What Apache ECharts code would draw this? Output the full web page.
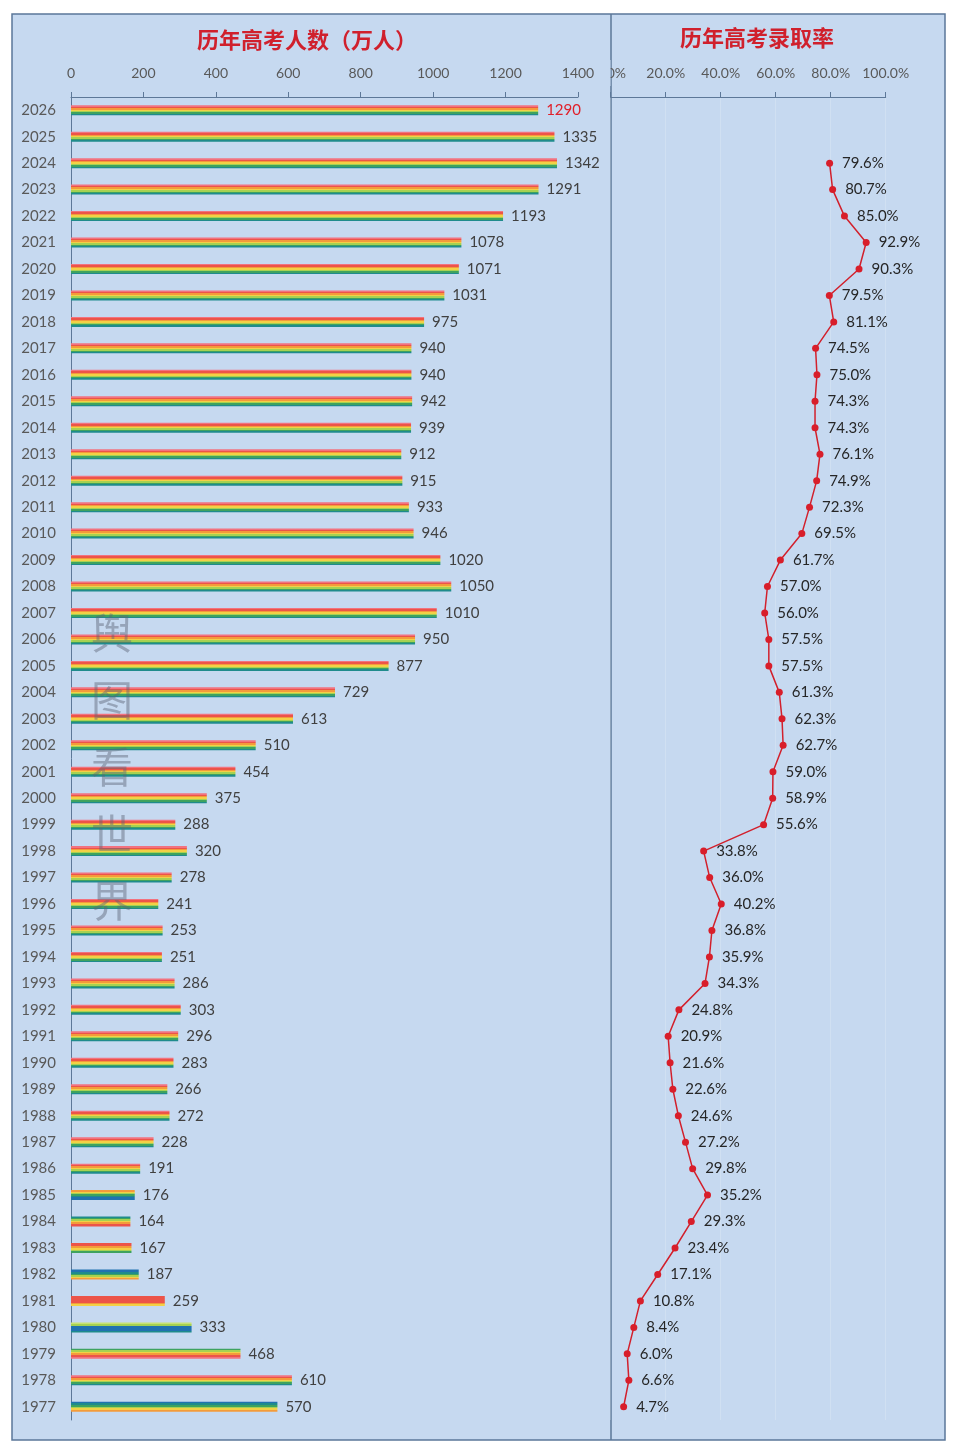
<!DOCTYPE html>
<html>
<head>
<meta charset="utf-8">
<script src="https://cdn.jsdelivr.net/npm/echarts@6/dist/echarts.min.js"></script>
<style>
html,body{margin:0;padding:0;background:#fff;}
#c{width:960px;height:1452px;}
</style>
</head>
<body>
<div id="c"></div>
<script>
const years = ['2026','2025','2024','2023','2022','2021','2020','2019','2018','2017','2016','2015','2014','2013','2012','2011','2010','2009','2008','2007','2006','2005','2004','2003','2002','2001','2000','1999','1998','1997','1996','1995','1994','1993','1992','1991','1990','1989','1988','1987','1986','1985','1984','1983','1982','1981','1980','1979','1978','1977'];
const applicants = [1290,1335,1342,1291,1193,1078,1071,1031,975,940,940,942,939,912,915,933,946,1020,1050,1010,950,877,729,613,510,454,375,288,320,278,241,253,251,286,303,296,283,266,272,228,191,176,164,167,187,259,333,468,610,570];
const admitRate = [null,null,79.6,80.7,85.0,92.9,90.3,79.5,81.1,74.5,75.0,74.3,74.3,76.1,74.9,72.3,69.5,61.7,57.0,56.0,57.5,57.5,61.3,62.3,62.7,59.0,58.9,55.6,33.8,36.0,40.2,36.8,35.9,34.3,24.8,20.9,21.6,22.6,24.6,27.2,29.8,35.2,29.3,23.4,17.1,10.8,8.4,6.0,6.6,4.7];
const countTicks = [0,200,400,600,800,1000,1200,1400];
const rateTicks = [0,20,40,60,80,100];

// stripe palettes (styling)
const P = {pk:'#f2727f',rd:'#ec5449',or:'#f39b3b',ye:'#f3d046',lg:'#a6d152',gr:'#3ea25f',tl:'#1f8b8c',bl:'#2172b0'};
const normal = [P.pk,P.rd,P.or,P.ye,P.lg,P.gr,P.tl];
const special = {
  '1985':[P.or,P.ye,P.lg,P.gr,P.tl,P.bl,P.bl],
  '1984':[P.tl,P.gr,P.lg,P.ye,P.or,P.rd,P.rd],
  '1983':[P.rd,P.rd,P.or,P.ye,P.lg,P.gr],
  '1982':[P.bl,P.bl,P.tl,P.gr,P.lg,P.ye,P.or],
  '1981':[P.rd,P.rd,P.rd,P.rd,P.or,P.ye],
  '1980':['#c9e275',P.lg,P.bl,P.bl,P.bl,P.tl],
  '1979':[P.gr,P.lg,P.ye,P.or,P.rd,P.rd,P.pk],
  '1977':[P.bl,P.tl,P.gr,P.lg,P.ye,P.or]
};
function stripes(cols){
  const stops=[];const n=cols.length;
  cols.forEach((c,i)=>{stops.push({offset:i/n,color:c});stops.push({offset:(i+1)/n-0.0001,color:c});});
  return new echarts.graphic.LinearGradient(0,0,0,1,stops);
}
const barData = applicants.map((v,i)=>{
  const item={value:v,itemStyle:{color:stripes(special[years[i]]||normal)}};
  if(years[i]==='2026') item.label={color:'#e0202a'};
  return item;
});

const BG='#c6d9f0', AX='#5d7898', TXT='#595959';
const chart = echarts.init(document.getElementById('c'),null,{renderer:'canvas'});
const lf='Lato, "Open Sans", sans-serif';
chart.setOption({
  backgroundColor:'#ffffff',
  animation:false,
  graphic:[
    {type:'rect',z:-10,shape:{x:12,y:14,width:933,height:1426},style:{fill:BG,stroke:'#5b7799',lineWidth:1.5}},
    {type:'line',z:-9,shape:{x1:611,y1:14,x2:611,y2:1440},style:{stroke:'#5b7799',lineWidth:1.5}},
    {type:'rect',z:100,shape:{x:588,y:60,width:22.5,height:26},style:{fill:BG}},
    {type:'text',z:100,style:{x:307,y:40,text:'历年高考人数（万人）',fill:'#d0202c',font:'bold 22px "Noto Sans CJK SC"',textAlign:'center',textVerticalAlign:'middle'}},
    {type:'text',z:100,style:{x:757,y:38,text:'历年高考录取率',fill:'#d0202c',font:'bold 22px "Noto Sans CJK SC"',textAlign:'center',textVerticalAlign:'middle'}},
    {type:'text',z:100,left:91,top:600,style:{text:'舆\n图\n看\n世\n界',fill:'rgba(90,100,118,0.45)',font:'42px "Noto Sans CJK SC"',lineHeight:67,textAlign:'left',textVerticalAlign:'top'}}
  ],
  grid:[
    {left:71,top:97,width:507,height:1323},
    {left:610.7,top:97,width:275,height:1323}
  ],
  xAxis:[
    {gridIndex:0,type:'value',position:'top',min:0,max:1400,interval:200,z:200,
     axisLine:{show:true,lineStyle:{color:AX,width:1}},
     axisTick:{show:true,length:5,lineStyle:{color:AX}},
     axisLabel:{color:TXT,fontSize:14,fontFamily:lf,margin:17,formatter:v=>String(v)},
     splitLine:{show:false}},
    {gridIndex:1,type:'value',position:'top',min:0,max:100,interval:20,z:0,
     axisLine:{show:true,lineStyle:{color:AX,width:1}},
     axisTick:{show:true,length:5,lineStyle:{color:AX}},
     axisLabel:{color:TXT,fontSize:14,fontFamily:lf,margin:17,formatter:v=>v.toFixed(1)+'%'},
     splitLine:{show:true,lineStyle:{color:'rgba(255,255,255,0.18)',width:1}}}
  ],
  yAxis:[
    {gridIndex:0,type:'category',data:years,inverse:true,
     axisLine:{show:true,lineStyle:{color:AX,width:1}},
     axisTick:{show:false},
     axisLabel:{color:TXT,fontSize:15,fontFamily:lf,margin:15}},
    {gridIndex:1,type:'category',data:years,inverse:true,
     axisLine:{show:false},axisTick:{show:false},axisLabel:{show:false}}
  ],
  series:[
    {type:'bar',xAxisIndex:0,yAxisIndex:0,data:barData,barWidth:10,
     label:{show:true,position:'right',distance:8,color:'#404040',fontSize:15,fontFamily:lf}},
    {type:'line',xAxisIndex:1,yAxisIndex:1,data:admitRate,connectNulls:false,
     symbol:'circle',symbolSize:7,
     lineStyle:{color:'#d2202c',width:1.5},itemStyle:{color:'#d81e2a'},
     label:{show:true,position:'right',distance:9,color:'#262626',fontSize:15,fontFamily:lf,formatter:p=>p.value==null?'':p.value.toFixed(1)+'%'}}
  ]
});
</script>
</body>
</html>
